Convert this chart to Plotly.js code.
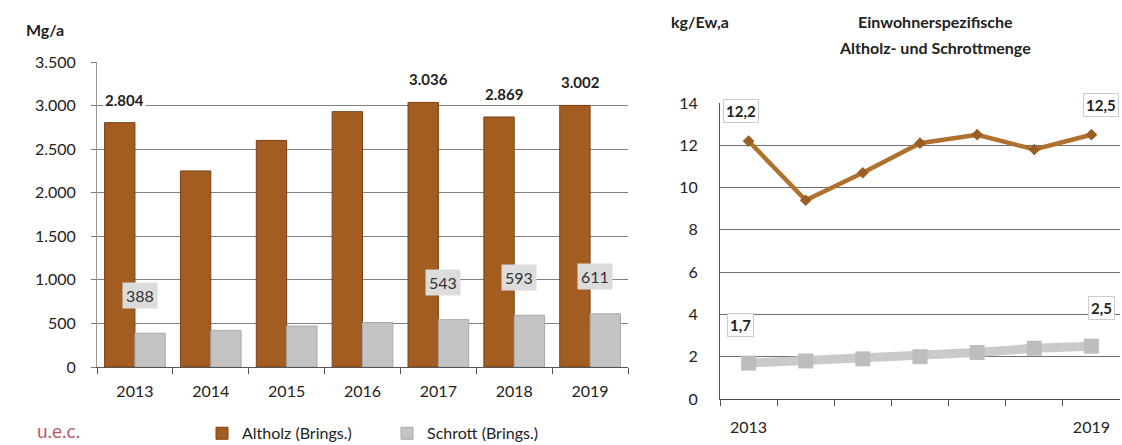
<!DOCTYPE html>
<html><head><meta charset="utf-8">
<script src="https://cdn.plot.ly/plotly-3.0.1.min.js"></script>
<style>html,body{margin:0;padding:0;background:#fff}#c{width:1122px;height:445px}</style>
</head><body><div id="c"></div>
<script>
const years = ['2013','2014','2015','2016','2017','2018','2019'];
const altholz = [2804, 2250, 2600, 2930, 3036, 2869, 3002];
const schrott = [388, 420, 470, 510, 543, 593, 611];
const altholzKg = [12.2, 9.4, 10.7, 12.1, 12.5, 11.8, 12.5];
const schrottKg = [1.7, 1.8, 1.9, 2.0, 2.2, 2.4, 2.5];
const altholzLabelIdx = [0, 4, 5, 6];
const schrottLabelIdx = [0, 4, 5, 6];
const kgLabelIdx = [0, 6];
const rightTickText = ['2013','','','','','','2019'];

const FONT = 'Lato, "Open Sans", sans-serif';
const brown = '#A35D20', gray = '#C4C4C4';
const fmtDE = v => v.toLocaleString('de-DE', {maximumFractionDigits: 1, minimumFractionDigits: v < 100 ? 1 : 0});

const traces = [
  {type:'bar', name:'Altholz (Brings.)', x:years, y:altholz, marker:{color:brown, line:{color:'#7a4214', width:1}}, xaxis:'x', yaxis:'y'},
  {type:'bar', name:'Schrott (Brings.)', x:years, y:schrott, marker:{color:gray, line:{color:'#a8a8a8', width:1}}, xaxis:'x', yaxis:'y'},
  {type:'scatter', mode:'lines+markers', x:years, y:altholzKg, line:{color:'#B0702E', width:4.5}, marker:{color:'#9a5e22', size:9, symbol:'diamond'}, xaxis:'x2', yaxis:'y2', showlegend:false},
  {type:'scatter', mode:'lines+markers', x:years, y:schrottKg, line:{color:'#CACACA', width:9}, marker:{color:'#BDBDBD', size:15, symbol:'square'}, xaxis:'x2', yaxis:'y2', showlegend:false}
];

const ann = [];
altholzLabelIdx.forEach(i => ann.push({x:i, y:altholz[i], xref:'x', yref:'y', text:'<b>'+fmtDE(altholz[i])+'</b>', showarrow:false, yanchor:'bottom', yshift:12, xshift:-10, bgcolor:'#fff', font:{family:FONT, size:15, color:'#222'}}));
schrottLabelIdx.forEach(i => ann.push({x:i, y:schrott[i], xref:'x', yref:'y', text:fmtDE(schrott[i]), showarrow:false, yanchor:'bottom', yshift:24, xshift:5, bgcolor:'#dcdcdc', borderpad:3, font:{family:FONT, size:16, color:'#333'}}));
kgLabelIdx.forEach(i => ann.push({x:i, y:altholzKg[i], xref:'x2', yref:'y2', text:'<b>'+fmtDE(altholzKg[i])+'</b>', showarrow:false, yanchor:'bottom', yshift:18, xshift: i===0 ? -8 : 10, bgcolor:'#fff', bordercolor:'#ccc', borderwidth:1, borderpad:2, font:{family:FONT, size:15, color:'#222'}}));
kgLabelIdx.forEach(i => ann.push({x:i, y:schrottKg[i], xref:'x2', yref:'y2', text:'<b>'+fmtDE(schrottKg[i])+'</b>', showarrow:false, yanchor:'bottom', yshift:26, xshift: i===0 ? -8 : 10, bgcolor:'#fff', bordercolor:'#ccc', borderwidth:1, borderpad:2, font:{family:FONT, size:15, color:'#222'}}));
const pix = [];
pix.push({x:45, y:30, text:'<b>Mg/a</b>', size:16});
pix.push({x:700, y:22, text:'<b>kg/Ew,a</b>', size:16});
pix.push({x:935, y:22, text:'<b>Einwohnerspezifische</b>', size:16});
pix.push({x:935, y:48, text:'<b>Altholz- und Schrottmenge</b>', size:16});
pix.push({x:58, y:430, text:'u.e.c.', size:19, color:'#b85a6a'});
pix.forEach(p => ann.push({xref:'paper', yref:'paper', x:p.x/1122, y:1-p.y/445, xanchor:'center', yanchor:'middle', text:p.text, showarrow:false, font:{family:FONT, size:p.size, color:p.color||'#222'}}));

const axFont = {family:FONT, size:16, color:'#222'};
const layout = {
  width:1122, height:445, margin:{l:0,r:0,t:0,b:0, autoexpand:false},
  paper_bgcolor:'#fff', plot_bgcolor:'#fff',
  separators:',.',
  barmode:'group', bargap:0.2, bargroupgap:0,
  font:{family:FONT, size:16, color:'#222'},
  xaxis:{domain:[97/1122, 628/1122], anchor:'y', type:'category', tickson:'boundaries', ticks:'outside', ticklen:6, tickcolor:'#555', showline:true, linecolor:'#555', tickfont:axFont, ticklabelstandoff:10, showgrid:false, range:[-0.5, 6.5], automargin:false},
  yaxis:{domain:[78/445, 383/445], anchor:'x', range:[0,3500], dtick:500, tickformat:',d', ticks:'outside', ticklen:5, tickcolor:'#777', showline:true, linecolor:'#999', gridcolor:'#808080', gridwidth:1, tickfont:axFont, ticklabelstandoff:12, zeroline:false, automargin:false},
  xaxis2:{domain:[720/1122, 1120/1122], anchor:'y2', type:'category', tickvals:years, ticktext:rightTickText, tickson:'boundaries', ticks:'outside', ticklen:6, tickcolor:'#555', showline:true, linecolor:'#444', tickfont:axFont, ticklabelstandoff:14, showgrid:false, range:[-0.5, 6.5], automargin:false},
  yaxis2:{domain:[46/445, 342/445], anchor:'x2', range:[0,14], dtick:2, ticks:'', showline:true, linecolor:'#555', gridcolor:'#707070', gridwidth:1, tickfont:axFont, ticklabelstandoff:18, zeroline:false, automargin:false},
  legend:{orientation:'h', x:202/1122, y:-0.012, xanchor:'left', yanchor:'bottom', entrywidth:140, entrywidthmode:'pixels', font:{family:FONT, size:16, color:'#222'}, itemwidth:30, bgcolor:'rgba(0,0,0,0)'},
  annotations:ann
};
Plotly.newPlot('c', traces, layout, {displayModeBar:false, staticPlot:true});
</script></body></html>
